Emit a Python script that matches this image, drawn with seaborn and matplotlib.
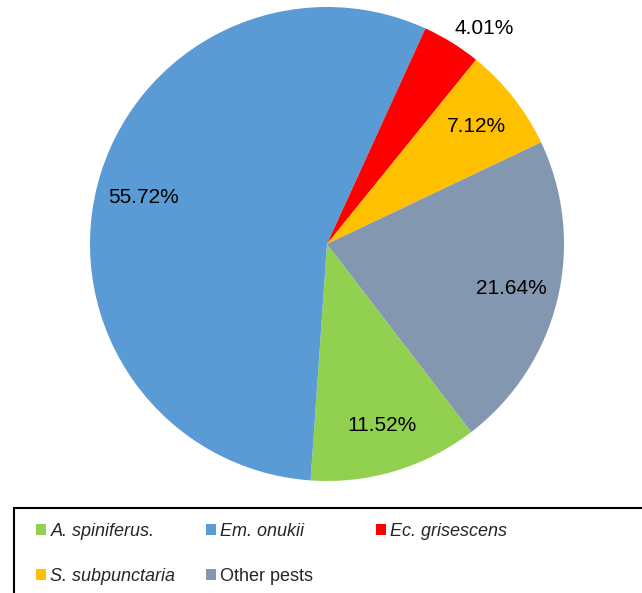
import matplotlib
matplotlib.use("Agg")
import matplotlib.pyplot as plt
from matplotlib.patches import Rectangle
import seaborn as sns

categories = ["A. spiniferus.", "Em. onukii", "Ec. grisescens", "S. subpunctaria", "Other pests"]
values = [11.52, 55.72, 4.01, 7.12, 21.64]
italic = [True, True, True, True, False]
colors = ["#92D050", "#5B9BD5", "#FF0000", "#FFC000", "#8497B0"]

sns.set_theme(style="white")
plt.rcParams["font.family"] = ["Liberation Sans", "DejaVu Sans"]

palette = sns.color_palette(colors)

fig = plt.figure(figsize=(6.42, 5.93), dpi=100)
ax = fig.add_axes([90 / 642, 112 / 593, 474 / 642, 474 / 593])

wedges, texts, autotexts = ax.pie(
    values, colors=palette, startangle=-52.5, counterclock=False,
    autopct="%1.2f%%", pctdistance=0.8, radius=1.0,
    textprops=dict(fontsize=15, color="black"),
    wedgeprops=dict(linewidth=0),
)
for t, v in zip(autotexts, values):
    t.set_text(f"{v:.2f}%")
# small slice label sits outside the pie
x, y = autotexts[2].get_position()
autotexts[2].set_position((x * 1.02 / 0.8, y * 1.02 / 0.8))
autotexts[2].set_ha("left")
autotexts[2].set_va("bottom")

ax.set_xlim(-1, 1)
ax.set_ylim(-1, 1)
ax.set_aspect("equal")
ax.axis("off")

# legend as three columns
cols = [[0, 3], [1, 4], [2]]
xpos = [36 / 642, 206 / 642, 376 / 642]
for c, xp in zip(cols, xpos):
    leg = fig.legend([wedges[i] for i in c], [categories[i] for i in c],
                     loc="upper left", bbox_to_anchor=(xp, 1 - 523 / 593),
                     frameon=False, fontsize=13, handlelength=0.55, handleheight=0.55,
                     handletextpad=0.25, labelspacing=1.55, borderpad=0, borderaxespad=0)
    for t, i in zip(leg.get_texts(), c):
        if italic[i]:
            t.set_fontstyle("italic")

fig.patches.append(Rectangle((14 / 642, -0.05), 1.0, (593 - 508) / 593 + 0.05,
                             transform=fig.transFigure, fill=False,
                             edgecolor="black", linewidth=1.5))

fig.savefig("out.png", dpi=100)
